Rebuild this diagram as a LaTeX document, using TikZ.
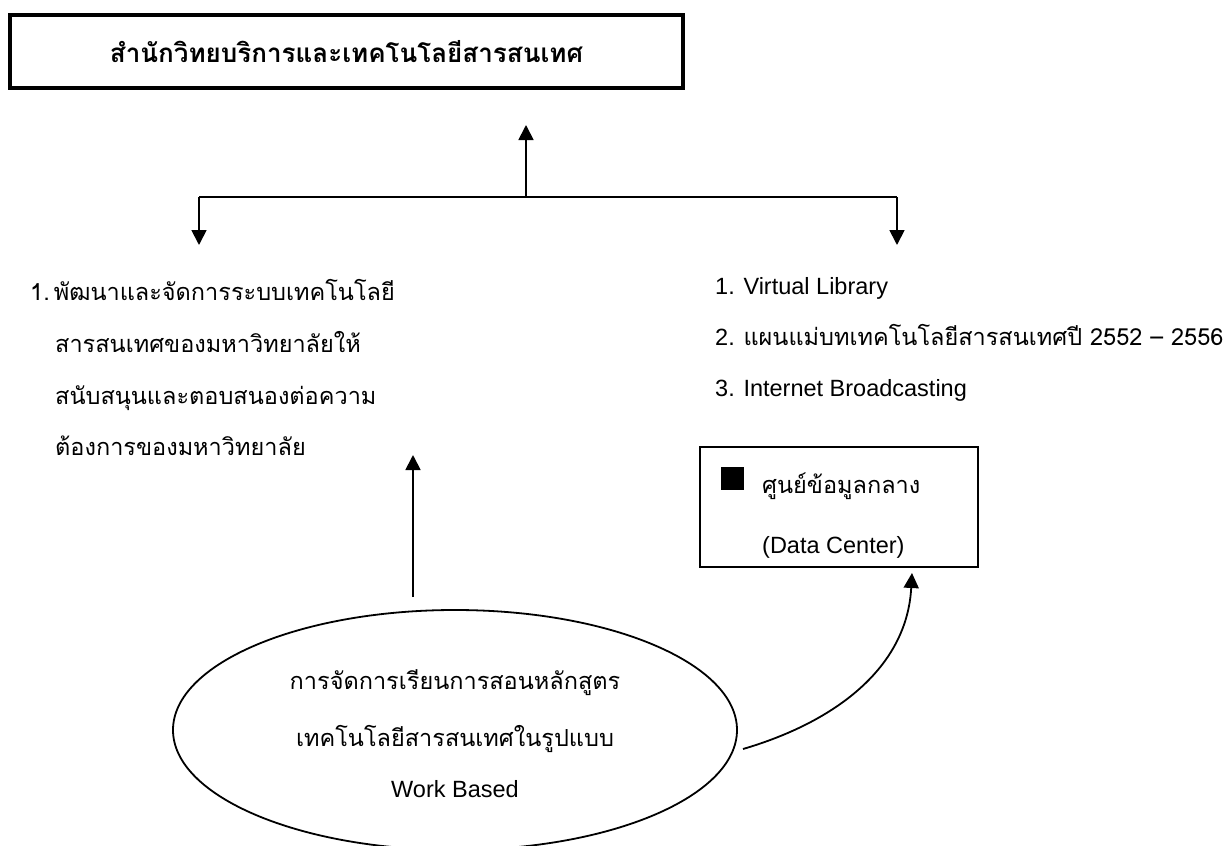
\documentclass[tikz,border=0pt]{standalone}
\usepackage{fontspec}
\setmainfont{Liberation Sans}
\newfontfamily\thaifont[Script=Thai]{Loma}
\newcommand\thaisize{\fontsize{23.5}{28}\selectfont}
\usetikzlibrary{arrows.meta,shapes.geometric}
\tikzset{
	title_box/.style = {shape=rectangle, draw=black, line width=3.5pt, minimum width=673pt, minimum height=73pt, inner sep=0pt, font=\thaifont\bfseries\fontsize{26}{30}\selectfont},
	center_box/.style = {shape=rectangle, draw=black, line width=1.8pt, minimum width=278pt, minimum height=120pt, inner sep=0pt},
	course_ellipse/.style = {shape=ellipse, draw=black, line width=1.8pt, minimum width=564pt, minimum height=240pt, inner sep=0pt},
	thai_text/.style = {inner sep=0pt, anchor=base west, font=\thaifont\thaisize},
	latin_text/.style = {inner sep=0pt, anchor=base west, font=\fontsize{23.5}{28}\selectfont}
}

\begin{document}
\begin{tikzpicture}[x=1pt, y=-1pt,
	arrow_style/.style={
		draw=black,
		line width=1.8pt,
		-{Triangle[length=15pt,width=15pt]}
		},
	line_style/.style={draw=black, line width=1.8pt}
	]
	\useasboundingbox (0,0) rectangle (1227,846);
	% all the nodes
	\node[title_box] (office) at (346.5,51.5) {สำนักวิทยบริการและเทคโนโลยีสารสนเทศ};

	\node[thai_text] (goal1) at (30,300) {1.\hspace{4pt}พัฒนาและจัดการระบบเทคโนโลยี};
	\node[thai_text] (goal2) at (55,352) {สารสนเทศของมหาวิทยาลัยให้};
	\node[thai_text] (goal3) at (55,404) {สนับสนุนและตอบสนองต่อความ};
	\node[thai_text] (goal4) at (55,455) {ต้องการของมหาวิทยาลัย};

	\node[latin_text] (plan1) at (715,294) {1. Virtual Library};
	\node[latin_text] (plan2) at (715,345) {2. {\thaifont\thaisize แผนแม่บทเทคโนโลยีสารสนเทศปี 2552 – 2556}};
	\node[latin_text] (plan3) at (715,396) {3. Internet Broadcasting};

	\node[center_box] (datacenter) at (839,507) {};
	\node[fill=black, minimum size=23pt, inner sep=0pt] (dcmark) at (732.5,478.5) {};
	\node[thai_text] (dcthai) at (762,493) {ศูนย์ข้อมูลกลาง};
	\node[latin_text] (dclatin) at (762,553) {(Data Center)};

	\node[course_ellipse] (course) at (455,730) {};
	\node[thai_text, anchor=base] (course1) at (455,689) {การจัดการเรียนการสอนหลักสูตร};
	\node[thai_text, anchor=base] (course2) at (455,746) {เทคโนโลยีสารสนเทศในรูปแบบ};
	\node[latin_text, anchor=base] (course3) at (455,797) {Work Based};

	% ends of the connectors
	\coordinate (junction) at (526,197);
	\coordinate (leftend) at (199,197);
	\coordinate (rightend) at (897,197);
	\coordinate (officetip) at (526,125);
	\coordinate (lefttip) at (199,245);
	\coordinate (righttip) at (897,245);
	\coordinate (coursetop) at (413,597);
	\coordinate (goaltip) at (413,455);
	\coordinate (curvestart) at (743,749);
	\coordinate (curvetip) at (912,573);

	\draw[arrow_style] (junction) -- (officetip);
	\draw[line_style] (leftend) -- (rightend);
	\draw[arrow_style] (leftend) -- (lefttip);
	\draw[arrow_style] (rightend) -- (righttip);
	\draw[arrow_style] (coursetop) -- (goaltip);
	\draw[arrow_style] (curvestart) .. controls (835,722) and (907,668) .. (curvetip);
\end{tikzpicture}
\end{document}
